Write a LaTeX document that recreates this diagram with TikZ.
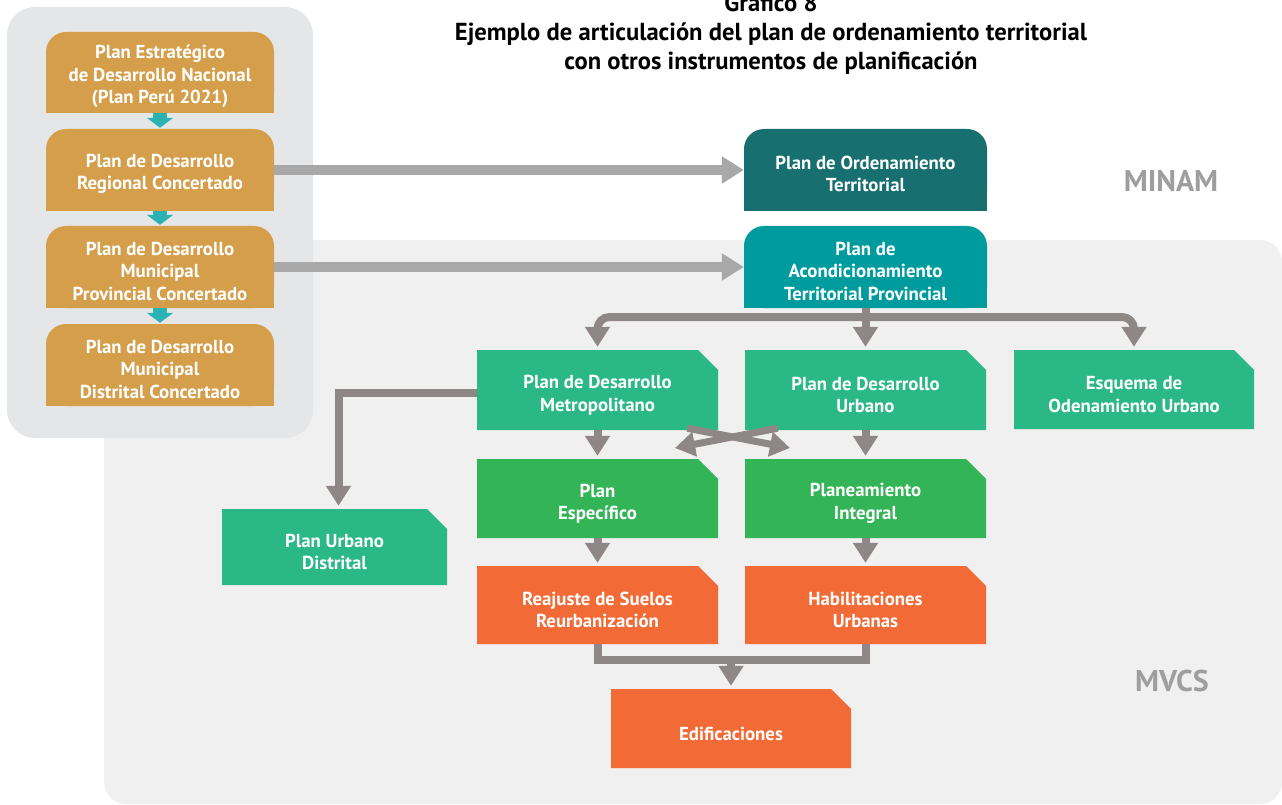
\documentclass[tikz,border=0pt]{standalone}
\usepackage{fontspec}
\setmainfont{PT Sans}
\usetikzlibrary{arrows.meta}
\definecolor{panelA}{HTML}{E5E6E7}
\definecolor{panelB}{HTML}{F0F0F0}
\definecolor{gold}{HTML}{D49E4B}
\definecolor{tealA}{HTML}{2BB3B4}
\definecolor{tealDark}{HTML}{17706F}
\definecolor{tealMid}{HTML}{009C9D}
\definecolor{greenA}{HTML}{2BB887}
\definecolor{greenB}{HTML}{33B457}
\definecolor{orangeA}{HTML}{F26A36}
\definecolor{brgrey}{HTML}{8F8786}
\definecolor{lgrey}{HTML}{A8A8A8}
\definecolor{labgrey}{HTML}{9E9E9E}
\newcommand{\boxfont}{\bfseries\fontsize{18.8}{22.5}\selectfont}
\newcommand{\foldbox}[7]{%
  \fill[#6] (#2,#3) -- ({#4-20},#3) -- (#4,{#3+20}) -- (#4,#5) -- (#2,#5) -- cycle;
  \node[inner sep=0pt, minimum width={(#4-#2)*1pt}, minimum height={(#5-#3)*1pt}] (#1) at ({(#2+#4)/2},{(#3+#5)/2}) {};
  \node[txt] (#1-t) at ([yshift=-5pt]#1.center) {#7};}
\newcommand{\roundbox}[7]{%
  \fill[#6, rounded corners=20pt] (#2,#3) rectangle (#4,#5);
  \fill[#6] (#2,{(#3+#5)/2}) rectangle (#4,#5);
  \node[inner sep=0pt, minimum width={(#4-#2)*1pt}, minimum height={(#5-#3)*1pt}] (#1) at ({(#2+#4)/2},{(#3+#5)/2}) {};
  \node[txt] (#1-t) at ([yshift=-4pt]#1.center) {#7};}
\begin{document}
\begin{tikzpicture}[x=1pt,y=-1pt,
  txt/.style={text=white, font=\boxfont, align=center, inner sep=0pt},
  greyarr/.style={draw=lgrey, line width=10pt, -{Triangle[length=22pt,width=26pt]}},
  brarr/.style={draw=brgrey, line width=8pt, -{Triangle[length=20pt,width=24pt]}, shorten >=3pt},
  brline/.style={draw=brgrey, line width=8pt},
  tealarr/.style={draw=tealA, line width=14pt, -{Triangle[length=10pt,width=26pt]}, shorten >=1pt},
  lab/.style={text=labgrey, font=\bfseries\fontsize{30}{34}\selectfont}]
\useasboundingbox (0,0) rectangle (1282,805);
% panels
\fill[panelB, rounded corners=22pt] (104,240) rectangle (1282,804);
\fill[panelA, rounded corners=28pt] (7,7) rectangle (313,438);
% title
\node[font=\bfseries\fontsize{24.6}{29}\selectfont, align=center] (title) at (771,34)
  {Gráfico 8\\Ejemplo de articulación del plan de ordenamiento territorial\\con otros instrumentos de planificación};
% left column
\roundbox{pedn}{46}{32}{274}{113}{gold}{Plan Estratégico\\de Desarrollo Nacional\\(Plan Perú 2021)}
\roundbox{pdrc}{46}{129}{274}{211}{gold}{Plan de Desarrollo\\Regional Concertado}
\roundbox{pdmp}{46}{226}{274}{308}{gold}{Plan de Desarrollo\\Municipal\\Provincial Concertado}
\roundbox{pdmd}{46}{324}{274}{406}{gold}{Plan de Desarrollo\\Municipal\\Distrital Concertado}
% top right
\roundbox{pot}{744}{129}{987}{211}{tealDark}{Plan de Ordenamiento\\Territorial}
\roundbox{pat}{744}{226}{987}{308}{tealMid}{Plan de\\Acondicionamiento\\Territorial Provincial}
% labels
\node[lab] (minam) at (1171,181) {MINAM};
\node[lab] (mvcs) at (1172,681) {MVCS};
% folded boxes
\foldbox{pdm}{477}{350}{718}{430}{greenA}{Plan de Desarrollo\\Metropolitano}
\foldbox{pdu}{745}{350}{986}{430}{greenA}{Plan de Desarrollo\\Urbano}
\foldbox{eou}{1014}{350}{1254}{429}{greenA}{Esquema de\\Odenamiento Urbano}
\foldbox{pe}{477}{459}{718}{538}{greenB}{Plan\\Específico}
\foldbox{pi}{745}{459}{986}{538}{greenB}{Planeamiento\\Integral}
\foldbox{rs}{477}{566}{718}{644}{orangeA}{Reajuste de Suelos\\Reurbanización}
\foldbox{hu}{745}{566}{986}{644}{orangeA}{Habilitaciones\\Urbanas}
\foldbox{edif}{611}{689}{851}{768}{orangeA}{Edificaciones}
\foldbox{pud}{222}{509}{447}{585}{greenA}{Plan Urbano\\Distrital}
% connectors
\draw[tealarr] (pedn.south) -- (pdrc.north);
\draw[tealarr] (pdrc.south) -- (pdmp.north);
\draw[tealarr] (pdmp.south) -- (pdmd.north);
\draw[greyarr] (pdrc.east) -- (pot.west);
\draw[greyarr] (pdmp.east) -- (pat.west);
\coordinate (split) at (866,317);
\draw[brarr, rounded corners=12pt] (split) -| (pdm.north);
\draw[brarr, rounded corners=12pt] (split) -| (eou.north);
\draw[brarr] (pat.south) -- (pdu.north);
\draw[brarr] ([yshift=-3pt]pdm.west) -| ([xshift=4pt]pud.north);
\draw[brarr] (pdm.south) -- (pe.north);
\draw[brarr] (pdu.south) -- (pi.north);
\coordinate (xl) at (675,448);
\coordinate (xr) at (790,448);
\draw[brarr, line width=7pt, shorten >=0pt] ([xshift=-31pt,yshift=2pt]pdm.south east) -- (xr);
\draw[brarr, line width=7pt, shorten >=0pt] ([xshift=33pt,yshift=2pt]pdu.south west) -- (xl);
\draw[brarr] (pe.south) -- (rs.north);
\draw[brarr] (pi.south) -- (hu.north);
\coordinate (mj) at (731,660);
\draw[brline] (rs.south) -- ++(0,16) -| (hu.south);
\draw[brarr] (mj) -- (edif.north);
\end{tikzpicture}
\end{document}
